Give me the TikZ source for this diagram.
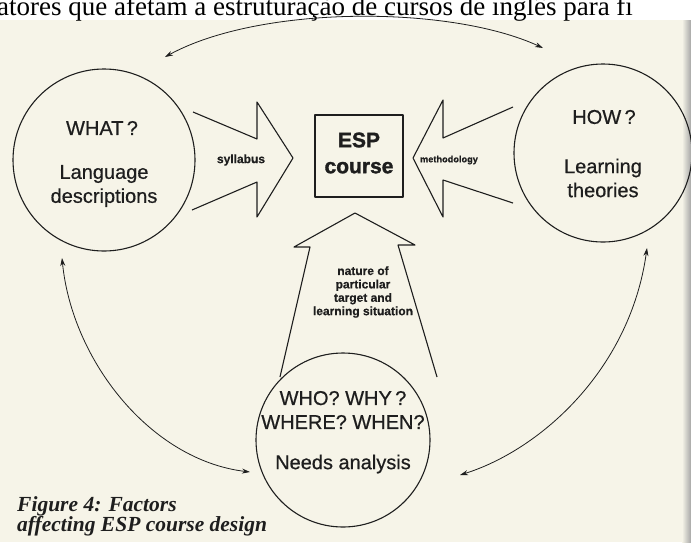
\documentclass[tikz,border=0pt]{standalone}
\usepackage{fontspec}
\setmainfont{Liberation Serif}
\newfontfamily\sansf[FakeBold=0.6]{Liberation Sans}
\newfontfamily\heavyf[FakeBold=1.5]{Liberation Sans Bold}
\usetikzlibrary{arrows.meta}
\definecolor{paper}{RGB}{246,244,232}
\definecolor{ink}{RGB}{30,30,30}
\tikzset{
  line/.style={draw=ink, line width=1.1pt, line join=round},
  circ/.style={line, circle, minimum size=#1},
  bigtxt/.style={font=\sansf\fontsize{20}{24}\selectfont, text=ink, align=center, inner sep=0pt},
  smalltxt/.style={font=\sansf\bfseries\fontsize{11}{13}\selectfont, text=ink, align=center, inner sep=0pt},
  twohead/.style={line, line width=0.8pt, {Stealth[length=8pt,width=5pt]}-{Stealth[length=8pt,width=5pt]}},
  captxt/.style={anchor=base west, inner sep=0pt, align=left, font=\bfseries\itshape\fontsize{21.5}{18}\selectfont, text=ink},
}
\begin{document}
\begin{tikzpicture}[x=1pt,y=-1pt]
\useasboundingbox (0,0) rectangle (691,542);
\fill[paper] (0,0) rectangle (691,542);
\fill[white] (0,0) rectangle (691,20);
\shade[left color=paper, right color=black!35] (682,20) rectangle (691,542);
\node[anchor=base west, inner sep=0pt, font=\fontsize{27}{30}\selectfont] (top) at (-3,15) {atores que afetam a estruturação de cursos de inglês para fi};

% circles
\node[circ=182pt] (what) at (104,160) {};
\node[circ=178pt] (how) at (603,153) {};
\node[circ=174pt] (who) at (343,440) {};
% ESP box
\node[line, minimum width=88pt, minimum height=82pt, inner sep=0pt] (esp) at (359,156) {};
\node[font=\heavyf\fontsize{21}{25}\selectfont, text=ink, align=center, inner sep=0pt] (esptxt) at (359,153) {ESP\\[1pt]course};

% circle texts
\node[bigtxt] (whatq) at (102,128) {WHAT\,?};
\node[bigtxt] (whatd) at (104,186) {Language\\descriptions};
\node[bigtxt] (howq) at (604,117) {HOW\,?};
\node[bigtxt] (howd) at (603,178) {Learning\\theories};
\node[bigtxt] (whoq) at (343,410) {WHO? WHY\,?\\WHERE? WHEN?};
\node[bigtxt] (whod) at (343,464) {Needs analysis};

% block arrows
\coordinate (s1) at (193,112); \coordinate (s2) at (192,210);
\draw[line] (s1) -- (257,139) -- (257,102) -- (293,158) -- (257,217) -- (257,182) -- (s2);
\node[smalltxt, font=\sansf\bfseries\fontsize{12}{14}\selectfont] (syl) at (241,160) {syllabus};

\coordinate (m1) at (513,107); \coordinate (m2) at (513,203);
\draw[line] (m1) -- (443,138) -- (443,100) -- (413,158) -- (443,217) -- (443,180) -- (m2);
\node[smalltxt, font=\sansf\bfseries\fontsize{9.2}{12}\selectfont] (meth) at (449,160) {methodology};

\coordinate (n1) at (280,377); \coordinate (n2) at (437,377);
\draw[line] (n1) -- (310,247) -- (294,247) -- (355,213) -- (415,245) -- (398,245) -- (n2);
\node[smalltxt, font=\sansf\bfseries\fontsize{12}{13.4}\selectfont] (nat) at (363,292) {nature of\\particular\\target and\\learning situation};

% curved two-headed connectors
\coordinate (t1) at (165,57); \coordinate (t2) at (543,48);
\draw[twohead] (t1) .. controls (260,5) and (450,5) .. (t2);
\coordinate (l1) at (62,258); \coordinate (l2) at (250,472);
\draw[twohead] (l1) .. controls (72,360) and (150,460) .. (l2);
\coordinate (r1) at (647,248); \coordinate (r2) at (460,475);
\draw[twohead] (r1) .. controls (630,370) and (540,450) .. (r2);

% caption
\node[captxt] (cap) at (17,511) {Figure 4: Factors};
\node[captxt] (cap2) at (17,531) {affecting ESP course design};
\end{tikzpicture}
\end{document}
